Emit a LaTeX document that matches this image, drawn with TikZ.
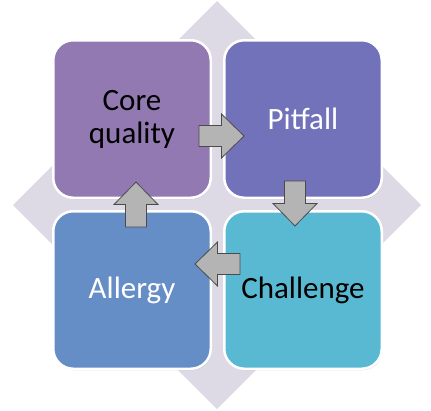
\documentclass[tikz,border=0pt]{standalone}
\usepackage{fontspec}
\setmainfont{Carlito}
\usetikzlibrary{shadows}
\definecolor{diam}{RGB}{221,218,230}
\definecolor{cqcol}{RGB}{146,121,178}
\definecolor{pfcol}{RGB}{114,114,186}
\definecolor{alcol}{RGB}{101,142,198}
\definecolor{chcol}{RGB}{90,185,210}
\definecolor{arrfill}{RGB}{180,180,180}
\definecolor{arrline}{RGB}{75,75,75}
\tikzset{
  quad/.style={rectangle, rounded corners=20pt, minimum width=157.5pt, minimum height=157.5pt,
    draw=white, line width=2.5pt, inner sep=0pt, align=center,
    font=\fontsize{31}{33}\selectfont,
    drop shadow={opacity=0.25, shadow xshift=0.8pt, shadow yshift=-1.5pt}},
  arrowstyle/.style={fill=arrfill, draw=arrline, line width=0.8pt, line join=miter},
  barrow/.pic={\draw[arrowstyle] (-22.5,-10.5) -- (0,-10.5) -- (0,-22) -- (22.5,0) -- (0,22) -- (0,10.5) -- (-22.5,10.5) -- cycle;}
}
\begin{document}
\begin{tikzpicture}[x=1pt,y=-1pt]
\useasboundingbox (0,0) rectangle (431,410);
\fill[diam] (217,1) -- (421,205) -- (217,409) -- (13,205) -- cycle;
\node[quad, fill=cqcol, text=black] (cq) at (132,119) {Core\\quality};
\node[quad, fill=pfcol, text=white] (pf) at (303,119) {Pitfall};
\node[quad, fill=alcol, text=white] (al) at (132,290) {Allergy};
\node[quad, fill=chcol, text=black] (ch) at (303,290) {Challenge};
\pic at (221.5,136) {barrow};
\pic[rotate=-90] at (295,203.5) {barrow};
\pic[rotate=180] at (217.5,264) {barrow};
\pic[rotate=90] at (136,204.5) {barrow};
\end{tikzpicture}
\end{document}
